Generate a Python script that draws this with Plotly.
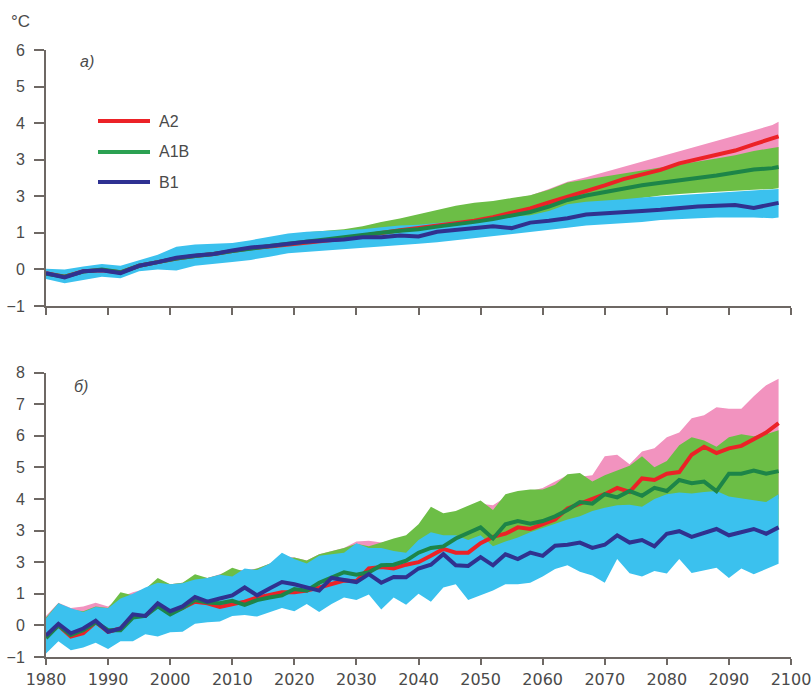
import plotly.graph_objects as go

# ---------------- data ----------------
# Panel a): 3-year steps
YEARS_A = list(range(1980, 2098, 3)) + [2098]

A2_A = [-0.10, -0.20, -0.05, -0.02, -0.08, 0.10, 0.20, 0.30, 0.37, 0.42,
        0.50, 0.58, 0.63, 0.68, 0.74, 0.79, 0.84, 0.92, 1.00, 1.07,
        1.13, 1.20, 1.27, 1.33, 1.43, 1.55, 1.67, 1.83, 1.98, 2.15,
        2.30, 2.47, 2.60, 2.72, 2.90, 3.02, 3.13, 3.25, 3.42, 3.57, 3.64]
A2_A_HI = [-0.03, -0.05, 0.03, 0.10, 0.05, 0.20, 0.35, 0.53, 0.60, 0.64,
           0.68, 0.76, 0.84, 0.94, 1.00, 1.04, 1.08, 1.16, 1.28, 1.37,
           1.48, 1.61, 1.72, 1.80, 1.85, 1.93, 2.02, 2.20, 2.40, 2.52,
           2.66, 2.80, 2.95, 3.08, 3.22, 3.38, 3.52, 3.65, 3.80, 3.95, 4.04]
A2_A_LO = [-0.18, -0.30, -0.20, -0.12, -0.16, 0.03, 0.08, 0.08, 0.21, 0.25,
           0.31, 0.38, 0.45, 0.53, 0.59, 0.63, 0.68, 0.73, 0.78, 0.85,
           0.91, 0.98, 1.05, 1.13, 1.20, 1.28, 1.38, 1.53, 1.73, 1.81,
           1.87, 1.91, 1.98, 2.05, 2.09, 2.13, 2.16, 2.19, 2.21, 2.23, 2.25]

A1B_A = [-0.12, -0.20, -0.06, 0.00, -0.08, 0.10, 0.20, 0.30, 0.37, 0.42,
         0.50, 0.58, 0.64, 0.70, 0.77, 0.82, 0.88, 0.93, 1.00, 1.06,
         1.10, 1.17, 1.23, 1.30, 1.38, 1.47, 1.57, 1.72, 1.90, 2.02,
         2.12, 2.22, 2.30, 2.37, 2.43, 2.50, 2.57, 2.65, 2.73, 2.77, 2.80]
A1B_A_HI = [-0.01, -0.03, 0.05, 0.12, 0.07, 0.22, 0.37, 0.55, 0.62, 0.66,
            0.70, 0.78, 0.86, 0.96, 1.02, 1.06, 1.10, 1.18, 1.30, 1.39,
            1.50, 1.63, 1.74, 1.82, 1.87, 1.95, 2.03, 2.18, 2.38, 2.46,
            2.54, 2.62, 2.70, 2.78, 2.86, 2.94, 3.03, 3.12, 3.24, 3.32, 3.35]
A1B_A_LO = [-0.21, -0.33, -0.23, -0.15, -0.19, 0.00, 0.05, 0.05, 0.18, 0.22,
            0.28, 0.35, 0.42, 0.50, 0.56, 0.60, 0.65, 0.70, 0.75, 0.82,
            0.88, 0.95, 1.02, 1.10, 1.17, 1.25, 1.35, 1.50, 1.70, 1.78,
            1.84, 1.88, 1.95, 2.02, 2.06, 2.10, 2.13, 2.16, 2.18, 2.20, 2.22]

B1_A = [-0.10, -0.22, -0.05, -0.02, -0.10, 0.10, 0.20, 0.32, 0.38, 0.42,
        0.52, 0.60, 0.64, 0.70, 0.76, 0.79, 0.82, 0.88, 0.88, 0.93,
        0.90, 1.03, 1.08, 1.14, 1.18, 1.13, 1.28, 1.33, 1.40, 1.50,
        1.54, 1.56, 1.60, 1.63, 1.68, 1.72, 1.74, 1.76, 1.68, 1.78, 1.82]
B1_A_HI = [0.02, 0.00, 0.08, 0.15, 0.10, 0.25, 0.40, 0.62, 0.68, 0.70,
           0.72, 0.80, 0.88, 0.98, 1.03, 1.05, 1.08, 1.10, 1.15, 1.20,
           1.22, 1.28, 1.32, 1.36, 1.42, 1.45, 1.48, 1.60, 1.78, 1.85,
           1.88, 1.92, 1.97, 2.00, 2.03, 2.06, 2.10, 2.13, 2.16, 2.18, 2.20]
B1_A_LO = [-0.26, -0.38, -0.28, -0.20, -0.24, -0.05, 0.00, -0.03, 0.10, 0.14,
           0.20, 0.26, 0.35, 0.44, 0.47, 0.50, 0.55, 0.60, 0.62, 0.66,
           0.70, 0.74, 0.80, 0.84, 0.90, 0.97, 1.02, 1.08, 1.14, 1.20,
           1.25, 1.27, 1.30, 1.35, 1.38, 1.40, 1.42, 1.43, 1.42, 1.40, 1.42]

# Panel б): 2-year steps
YEARS_B = list(range(1980, 2099, 2))

A2_B = [-0.35, 0.00, -0.35, -0.25, 0.10, -0.20, -0.10, 0.30, 0.30, 0.65,
        0.40, 0.55, 0.75, 0.70, 0.58, 0.65, 0.75, 0.88, 0.98, 1.05,
        1.05, 1.10, 1.20, 1.30, 1.42, 1.40, 1.80, 1.85, 1.80, 1.92,
        2.00, 2.20, 2.42, 2.30, 2.30, 2.60, 2.80, 2.90, 3.10, 3.05,
        3.20, 3.35, 3.70, 3.85, 4.00, 4.15, 4.35, 4.22, 4.65, 4.60,
        4.80, 4.85, 5.40, 5.65, 5.45, 5.60, 5.68, 5.90, 6.10, 6.40]
A2_B_HI = [0.30, 0.72, 0.55, 0.60, 0.72, 0.60, 0.90, 1.05, 1.15, 1.45,
           1.30, 1.35, 1.55, 1.50, 1.62, 1.75, 1.75, 1.80, 1.95, 2.20,
           2.15, 2.05, 2.25, 2.35, 2.45, 2.65, 2.68, 2.62, 2.70, 2.80,
           3.00, 3.40, 3.50, 3.55, 3.75, 3.85, 3.80, 4.05, 4.15, 4.25,
           4.35, 4.55, 4.75, 4.70, 4.75, 5.35, 5.40, 5.10, 5.50, 5.60,
           5.95, 6.10, 6.55, 6.65, 6.90, 6.85, 6.85, 7.25, 7.60, 7.80]
A2_B_LO = [-0.55, -0.30, -0.55, -0.50, -0.30, -0.50, -0.35, -0.15, -0.10, 0.05,
           0.00, 0.10, 0.25, 0.30, 0.30, 0.40, 0.45, 0.50, 0.55, 0.65,
           0.65, 0.75, 0.75, 0.85, 0.95, 0.95, 1.10, 1.00, 1.05, 1.10,
           1.25, 1.30, 1.45, 1.50, 1.45, 1.65, 1.70, 1.80, 1.95, 2.00,
           2.10, 2.20, 2.40, 2.50, 2.55, 2.65, 2.80, 2.80, 3.00, 3.00,
           3.10, 3.20, 3.40, 3.50, 3.50, 3.60, 3.65, 3.80, 3.90, 4.00]

A1B_B = [-0.40, 0.00, -0.30, -0.15, 0.10, -0.15, -0.15, 0.25, 0.30, 0.60,
         0.35, 0.55, 0.80, 0.72, 0.70, 0.78, 0.65, 0.80, 0.88, 0.95,
         1.15, 1.10, 1.35, 1.50, 1.68, 1.60, 1.68, 1.90, 1.92, 2.05,
         2.30, 2.45, 2.50, 2.75, 2.92, 3.10, 2.75, 3.20, 3.30, 3.22,
         3.30, 3.45, 3.65, 3.90, 3.85, 4.15, 4.05, 4.25, 4.10, 4.35,
         4.25, 4.60, 4.50, 4.55, 4.25, 4.80, 4.80, 4.90, 4.80, 4.88]
A1B_B_HI = [0.25, 0.70, 0.50, 0.45, 0.60, 0.55, 1.05, 0.95, 1.15, 1.50,
            1.30, 1.35, 1.62, 1.50, 1.60, 1.82, 1.70, 1.80, 1.95, 2.10,
            2.15, 2.05, 2.25, 2.35, 2.45, 2.58, 2.50, 2.62, 2.75, 2.85,
            3.20, 3.75, 3.55, 3.62, 3.78, 3.95, 3.65, 4.15, 4.25, 4.30,
            4.30, 4.45, 4.78, 4.82, 4.55, 4.75, 4.90, 5.05, 5.35, 5.00,
            5.20, 5.70, 5.95, 5.85, 5.65, 5.95, 6.05, 5.98, 6.05, 6.17]
A1B_B_LO = [-0.60, -0.30, -0.60, -0.50, -0.30, -0.50, -0.40, -0.20, -0.10, 0.00,
            0.00, 0.05, 0.25, 0.25, 0.30, 0.40, 0.40, 0.45, 0.50, 0.65,
            0.60, 0.75, 0.70, 0.80, 0.95, 0.90, 1.05, 0.90, 1.00, 1.00,
            1.20, 1.20, 1.35, 1.45, 1.40, 1.60, 1.50, 1.70, 1.80, 1.85,
            1.90, 2.10, 2.20, 2.30, 2.30, 2.40, 2.50, 2.55, 2.50, 2.70,
            2.65, 2.90, 2.85, 2.90, 2.70, 3.00, 3.00, 3.10, 3.00, 3.10]

B1_B = [-0.32, 0.05, -0.25, -0.10, 0.15, -0.20, -0.10, 0.35, 0.30, 0.70,
        0.45, 0.60, 0.90, 0.75, 0.85, 0.95, 1.20, 0.95, 1.17, 1.37,
        1.30, 1.20, 1.10, 1.50, 1.42, 1.37, 1.62, 1.35, 1.53, 1.52,
        1.80, 1.92, 2.25, 1.90, 1.88, 2.16, 1.90, 2.25, 2.10, 2.30,
        2.20, 2.52, 2.55, 2.62, 2.45, 2.55, 2.85, 2.62, 2.70, 2.50,
        2.90, 2.98, 2.80, 2.92, 3.05, 2.85, 2.95, 3.05, 2.90, 3.10]
B1_B_HI = [0.22, 0.70, 0.54, 0.42, 0.58, 0.54, 0.85, 1.00, 1.20, 1.35,
           1.30, 1.33, 1.45, 1.50, 1.60, 1.55, 1.80, 1.75, 1.95, 2.30,
           2.10, 1.96, 2.20, 2.25, 2.30, 2.60, 2.45, 2.45, 2.35, 2.30,
           2.70, 2.95, 2.85, 2.85, 2.70, 2.85, 2.50, 2.65, 2.78, 2.95,
           3.08, 3.20, 3.35, 3.45, 3.62, 3.72, 3.80, 3.82, 3.75, 4.00,
           4.15, 4.20, 4.17, 4.22, 4.25, 4.08, 4.02, 3.97, 3.90, 4.15]
B1_B_LO = [-0.89, -0.50, -0.79, -0.70, -0.55, -0.75, -0.50, -0.50, -0.28, -0.35,
           -0.22, -0.20, 0.05, 0.10, 0.12, 0.30, 0.33, 0.28, 0.42, 0.55,
           0.45, 0.68, 0.42, 0.68, 0.88, 0.80, 0.98, 0.50, 0.88, 0.65,
           1.00, 0.75, 1.20, 1.30, 0.80, 0.95, 1.10, 1.30, 1.30, 1.35,
           1.55, 1.78, 1.90, 1.70, 1.58, 1.35, 2.10, 1.65, 1.55, 1.72,
           1.64, 2.10, 1.66, 1.75, 1.82, 1.50, 1.80, 1.62, 1.78, 1.95]

SCENARIOS = ["A2", "A1B", "B1"]
X_TICKS = list(range(1980, 2101, 10))
Y_TICKS_A = [-1, 0, 1, 2, 3, 4, 5, 6]
Y_TEXT_A = ["\u22121", "0", "1", "3", "3", "4", "5", "6"]
Y_TICKS_B = [-1, 0, 1, 2, 3, 4, 5, 6, 7, 8]
Y_TEXT_B = ["\u22121", "0", "1", "3", "3", "4", "5", "6", "7", "8"]

# ---------------- styling ----------------
BAND = {"A2": "#f293bf", "A1B": "#6cbe46", "B1": "#3bc1ee"}
LINE = {"A2": "#ec2227", "A1B": "#1d8548", "B1": "#30318f"}
KEY = {"A2": "#ec2227", "A1B": "#2ba152", "B1": "#2e3192"}
AXIS = "#6e6864"
TEXT = "#4a4a4a"

W, H = 811, 688
ML, MR, MT, MB = 46, 20, 40, 31
PW, PH = W - ML - MR, H - MT - MB


def px_x(px):
    return (px - ML) / PW


def px_y(py):
    return (H - MB - py) / PH


fig = go.Figure()

panels = [
    ("x", "y", YEARS_A, {"A2": (A2_A, A2_A_LO, A2_A_HI),
                         "A1B": (A1B_A, A1B_A_LO, A1B_A_HI),
                         "B1": (B1_A, B1_A_LO, B1_A_HI)}, 4),
    ("x2", "y2", YEARS_B, {"A2": (A2_B, A2_B_LO, A2_B_HI),
                           "A1B": (A1B_B, A1B_B_LO, A1B_B_HI),
                           "B1": (B1_B, B1_B_LO, B1_B_HI)}, 4),
]

for xa, ya, years, series, lw in panels:
    # spread bands: pink behind green, blue in front
    for name in SCENARIOS:
        mid, lo, hi = series[name]
        fig.add_trace(go.Scatter(
            x=years + years[::-1], y=hi + lo[::-1],
            mode="lines", fill="toself", fillcolor=BAND[name],
            line=dict(width=0, color=BAND[name]),
            hoverinfo="skip", showlegend=False, xaxis=xa, yaxis=ya))
    for name in SCENARIOS:
        mid, lo, hi = series[name]
        fig.add_trace(go.Scatter(
            x=years, y=mid, mode="lines", name=name,
            line=dict(width=lw, color=LINE[name]),
            showlegend=False, xaxis=xa, yaxis=ya))

axis_common = dict(showline=True, linecolor=AXIS, linewidth=2, showgrid=False,
                   zeroline=False, ticks="outside", tickcolor=AXIS, tickwidth=1.5,
                   automargin=False)

fig.update_layout(
    width=W, height=H, autosize=False,
    margin=dict(l=ML, r=MR, t=MT, b=MB),
    paper_bgcolor="white", plot_bgcolor="white",
    showlegend=False,
    xaxis=dict(domain=[0, 1], anchor="y", range=[1980, 2100], tickvals=X_TICKS,
               showticklabels=False, ticklen=7, **axis_common),
    yaxis=dict(domain=[px_y(306), px_y(50)], anchor="x", range=[-1, 6],
               tickvals=Y_TICKS_A, ticktext=Y_TEXT_A, ticklen=10,
               ticklabelstandoff=6,
               tickfont=dict(family="Liberation Sans", size=16, color=TEXT),
               **axis_common),
    xaxis2=dict(domain=[0, 1], anchor="y2", range=[1980, 2100], tickvals=X_TICKS,
                ticktext=[str(v) for v in X_TICKS], ticklen=6, ticklabelstandoff=1,
                ticklabeloverflow="allow",
                tickfont=dict(family="DejaVu Sans", size=16, color=TEXT),
                **axis_common),
    yaxis2=dict(domain=[0, px_y(372.5)], anchor="x2", range=[-1, 8],
                tickvals=Y_TICKS_B, ticktext=Y_TEXT_B, ticklen=10,
                ticklabelstandoff=6,
                tickfont=dict(family="Liberation Sans", size=16, color=TEXT),
                **axis_common),
)

annotations = [
    dict(text="\u00b0C", x=px_x(20), y=px_y(22), font=dict(size=17)),
    dict(text="<i>a)</i>", x=px_x(87), y=px_y(62), font=dict(size=16)),
    dict(text="<i>\u0431)</i>", x=px_x(81), y=px_y(386), font=dict(size=16)),
]

# scenario key
shapes = []
for name, py in zip(SCENARIOS, [121, 152, 182]):
    shapes.append(dict(type="line", xref="paper", yref="paper",
                       x0=px_x(98), x1=px_x(150), y0=px_y(py), y1=px_y(py),
                       line=dict(color=KEY[name], width=4)))
    annotations.append(dict(text=name, x=px_x(157), y=px_y(py), xanchor="left",
                            font=dict(size=16)))

for a in annotations:
    a.setdefault("xanchor", "center")
    a.update(xref="paper", yref="paper", yanchor="middle", showarrow=False)
    a["font"].update(family="Liberation Sans", color=TEXT)

fig.update_layout(annotations=annotations, shapes=shapes)

fig.write_html("out.html")
